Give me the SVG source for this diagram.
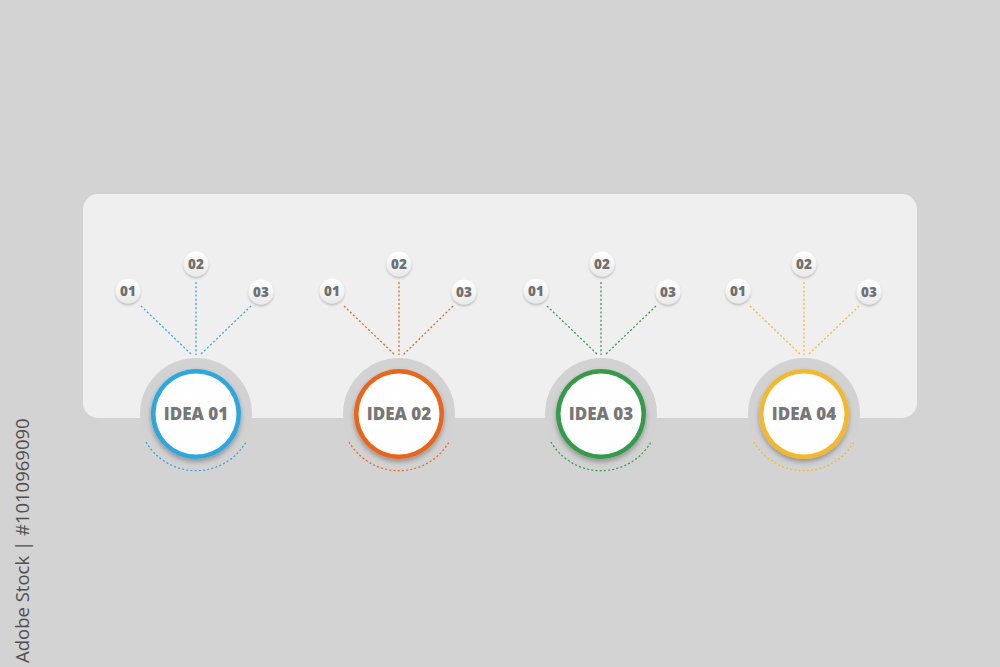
<svg xmlns="http://www.w3.org/2000/svg" width="1000" height="667" viewBox="0 0 1000 667">
<style>
.num{font-family:"Open Sans","Liberation Sans",sans-serif;font-weight:800;font-size:13.5px;fill:#6f6f6f;text-anchor:middle}
.idea{font-family:"Open Sans","Liberation Sans",sans-serif;font-weight:800;font-size:17px;fill:#777;text-anchor:middle}
.dot{fill:none;stroke-width:1.3;stroke-dasharray:2 2.2}
.halo{fill:#d2d2d2}
.bub{fill:url(#bg);filter:url(#sh2)}
.side{font-family:"Open Sans","Liberation Sans",sans-serif;font-size:18.5px;fill:#505050}
</style>
<defs>
<radialGradient id="wg" cx="0.45" cy="0.4" r="0.7"><stop offset="0" stop-color="#ffffff"/><stop offset="0.85" stop-color="#fdfdfd"/><stop offset="1" stop-color="#f3f3f3"/></radialGradient>
<linearGradient id="bg" x1="0" y1="0" x2="0" y2="1"><stop offset="0" stop-color="#ffffff"/><stop offset="1" stop-color="#e9e9e9"/></linearGradient>
<filter id="sh" x="-30%" y="-30%" width="160%" height="170%"><feDropShadow dx="0" dy="3" stdDeviation="2.5" flood-color="#000" flood-opacity="0.3"/></filter>
<filter id="sh2" x="-40%" y="-40%" width="180%" height="190%"><feDropShadow dx="0" dy="1.5" stdDeviation="1.2" flood-color="#000" flood-opacity="0.25"/></filter>
</defs>
<rect width="1000" height="667" fill="#d3d3d3"/>
<rect x="83" y="194" width="834" height="224" rx="15" fill="#efefef"/>
<text class="side" transform="translate(29,663) rotate(-90)">Adobe Stock | #1010969090</text>

<g id="connectors">
  <g stroke="#2ea7df">
    <path class="dot" d="M141 306 L192 355 M196 282 L196 355 M251 306 L200 355"/>
    <path class="dot" d="M146 442 A58 58 0 0 0 246 442"/>
  </g>
  <g stroke="#e8651f">
    <path class="dot" d="M344 306 L395 355 M399 282 L399 355 M453 306 L403 355"/>
    <path class="dot" d="M349 442 A58 58 0 0 0 449 442"/>
  </g>
  <g stroke="#349b4b">
    <path class="dot" d="M547 306 L598 355 M601 282 L601 355 M656 306 L605 355"/>
    <path class="dot" d="M551 442 A58 58 0 0 0 651 442"/>
  </g>
  <g stroke="#f2b92e">
    <path class="dot" d="M750 306 L801 355 M804 282 L804 355 M859 306 L808 355"/>
    <path class="dot" d="M754 442 A58 58 0 0 0 854 442"/>
  </g>
</g>

<g id="idea1">
  <circle class="halo" cx="196" cy="414" r="56"/>
  <circle cx="196" cy="414" r="45" fill="#2ea7df" filter="url(#sh)"/>
  <circle cx="196" cy="414" r="40.5" fill="url(#wg)"/>
  <text class="idea" x="196" y="420">IDEA 01</text>
</g>
<g id="idea1-items">
  <circle class="bub" cx="128" cy="291" r="12.5"/><text class="num" x="128" y="296">01</text>
  <circle class="bub" cx="196" cy="264" r="12.5"/><text class="num" x="196" y="269">02</text>
  <circle class="bub" cx="261" cy="292" r="12.5"/><text class="num" x="261" y="297">03</text>
</g>

<g id="idea2">
  <circle class="halo" cx="399" cy="414" r="56"/>
  <circle cx="399" cy="414" r="45" fill="#e8651f" filter="url(#sh)"/>
  <circle cx="399" cy="414" r="40.5" fill="url(#wg)"/>
  <text class="idea" x="399" y="420">IDEA 02</text>
</g>
<g id="idea2-items">
  <circle class="bub" cx="332" cy="291" r="12.5"/><text class="num" x="332" y="296">01</text>
  <circle class="bub" cx="399" cy="264" r="12.5"/><text class="num" x="399" y="269">02</text>
  <circle class="bub" cx="464" cy="292" r="12.5"/><text class="num" x="464" y="297">03</text>
</g>

<g id="idea3">
  <circle class="halo" cx="601" cy="414" r="56"/>
  <circle cx="601" cy="414" r="45" fill="#349b4b" filter="url(#sh)"/>
  <circle cx="601" cy="414" r="40.5" fill="url(#wg)"/>
  <text class="idea" x="601" y="420">IDEA 03</text>
</g>
<g id="idea3-items">
  <circle class="bub" cx="536" cy="291" r="12.5"/><text class="num" x="536" y="296">01</text>
  <circle class="bub" cx="602" cy="264" r="12.5"/><text class="num" x="602" y="269">02</text>
  <circle class="bub" cx="668" cy="292" r="12.5"/><text class="num" x="668" y="297">03</text>
</g>

<g id="idea4">
  <circle class="halo" cx="804" cy="414" r="56"/>
  <circle cx="804" cy="414" r="45" fill="#f2b92e" filter="url(#sh)"/>
  <circle cx="804" cy="414" r="40.5" fill="url(#wg)"/>
  <text class="idea" x="804" y="420">IDEA 04</text>
</g>
<g id="idea4-items">
  <circle class="bub" cx="738" cy="291" r="12.5"/><text class="num" x="738" y="296">01</text>
  <circle class="bub" cx="804" cy="264" r="12.5"/><text class="num" x="804" y="269">02</text>
  <circle class="bub" cx="869" cy="292" r="12.5"/><text class="num" x="869" y="297">03</text>
</g>
</svg>
